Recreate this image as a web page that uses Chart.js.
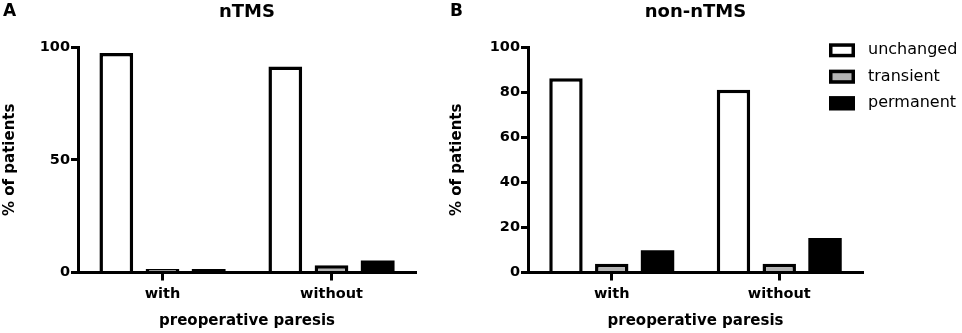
<!DOCTYPE html>
<html><head><meta charset="utf-8">
<script src="https://cdn.jsdelivr.net/npm/chart.js@4.4.1/dist/chart.umd.min.js"></script>
<style>
html,body{margin:0;padding:0;background:#fff;width:962px;height:333px;overflow:hidden}
#a{position:absolute;left:0;top:0;width:440px;height:333px}
#b{position:absolute;left:440px;top:0;width:522px;height:333px}
</style></head><body>
<div id="a"><canvas id="ca" width="440" height="333"></canvas></div>
<div id="b"><canvas id="cb" width="522" height="333"></canvas></div>
<script>
const categories = ['with', 'without'];
const seriesNames = ['unchanged', 'transient', 'permanent'];
const nTMS_unchanged = [97.3, 91.3];
const nTMS_transient = [1.6, 3.2];
const nTMS_permanent = [1.6, 5.3];
const nonNTMS_unchanged = [86.1, 81.0];
const nonNTMS_transient = [3.9, 3.9];
const nonNTMS_permanent = [9.9, 15.3];
const ticksA = [0, 50, 100];
const ticksB = [0, 20, 40, 60, 80, 100];
const panelTitles = ['nTMS', 'non-nTMS'];
const panelLetters = ['A', 'B'];
const xTitle = 'preoperative paresis';
const yTitle = '% of patients';

const FF = "'DejaVu Sans', sans-serif";
const fills = ['#ffffff', '#b3b3b3', '#000000'];
const borders = [3.5, 3.5, 0];

function datasets(u, t, p) {
  return [u, t, p].map((d, i) => ({
    label: seriesNames[i],
    data: d,
    backgroundColor: fills[i],
    borderColor: '#000',
    borderWidth: borders[i],
    borderSkipped: 'start',
    categoryPercentage: 0.82,
    barPercentage: 0.73
  }));
}

function makeChart(id, ds, ticks, yW, padRight, yTitlePad, letter, title, letterX, legend) {
  const plugin = {
    id: 'deco' + id,
    afterDraw(chart) {
      const ctx = chart.ctx;
      const ca = chart.chartArea;
      ctx.save();
      ctx.fillStyle = '#000';
      ctx.textBaseline = 'middle';
      ctx.font = 'bold 17px ' + FF;
      ctx.textAlign = 'left';
      ctx.fillText(letter, letterX, 12);
      ctx.font = 'bold 18px ' + FF;
      ctx.textAlign = 'center';
      ctx.fillText(title, (ca.left + ca.right) / 2, 12);
      if (legend) {
        const rows = [50.3, 76.7, 103.3];
        chart.data.datasets.forEach((d, i) => {
          ctx.fillStyle = d.backgroundColor;
          ctx.fillRect(389, rows[i] - 7, 26, 14);
          ctx.strokeStyle = '#000';
          ctx.lineWidth = 3.5;
          ctx.strokeRect(390.75, rows[i] - 5.25, 22.5, 10.5);
          ctx.fillStyle = '#000';
          ctx.font = '16px ' + FF;
          ctx.textAlign = 'left';
          ctx.fillText(d.label, 428, rows[i]);
        });
      }
      ctx.restore();
    }
  };
  return new Chart(document.getElementById(id), {
    type: 'bar',
    data: { labels: categories, datasets: ds },
    plugins: [plugin],
    options: {
      responsive: false,
      animation: false,
      layout: { padding: { left: 0, top: 47, right: padRight, bottom: 0 } },
      plugins: { legend: { display: false }, title: { display: false }, tooltip: { enabled: false } },
      scales: {
        x: {
          afterFit(s) { s.height = 60.5; },
          border: { display: true, width: 3, color: '#000', z: 1 },
          grid: { display: true, offset: false, drawOnChartArea: false, drawTicks: true, tickLength: 8, tickWidth: 3, tickColor: '#000', color: '#000' },
          ticks: { color: '#000', font: { family: FF, weight: 'bold', size: 14.5 }, padding: 5 },
          title: { display: true, text: xTitle, color: '#000', font: { family: FF, weight: 'bold', size: 15 }, padding: { top: 0, bottom: 3 } }
        },
        y: {
          min: 0, max: 100,
          afterFit(s) { s.width = yW; },
          afterBuildTicks(s) { s.ticks = ticks.map(v => ({ value: v })); },
          border: { display: true, width: 3, color: '#000' },
          grid: { display: true, drawOnChartArea: false, drawTicks: true, tickLength: 7, tickWidth: 3, tickColor: '#000', color: '#000' },
          ticks: { color: '#000', font: { family: FF, weight: 'bold', size: 14.5 }, padding: 1 },
          title: { display: true, text: yTitle, color: '#000', font: { family: FF, weight: 'bold', size: 15 }, padding: { top: yTitlePad, bottom: 0 } }
        }
      }
    }
  });
}

makeChart('ca', datasets(nTMS_unchanged, nTMS_transient, nTMS_permanent), ticksA, 78, 24, 1, panelLetters[0], panelTitles[0], 3, false);
makeChart('cb', datasets(nonNTMS_unchanged, nonNTMS_transient, nonNTMS_permanent), ticksB, 88, 99, 8.5, panelLetters[1], panelTitles[1], 10, true);
</script>
</body></html>
